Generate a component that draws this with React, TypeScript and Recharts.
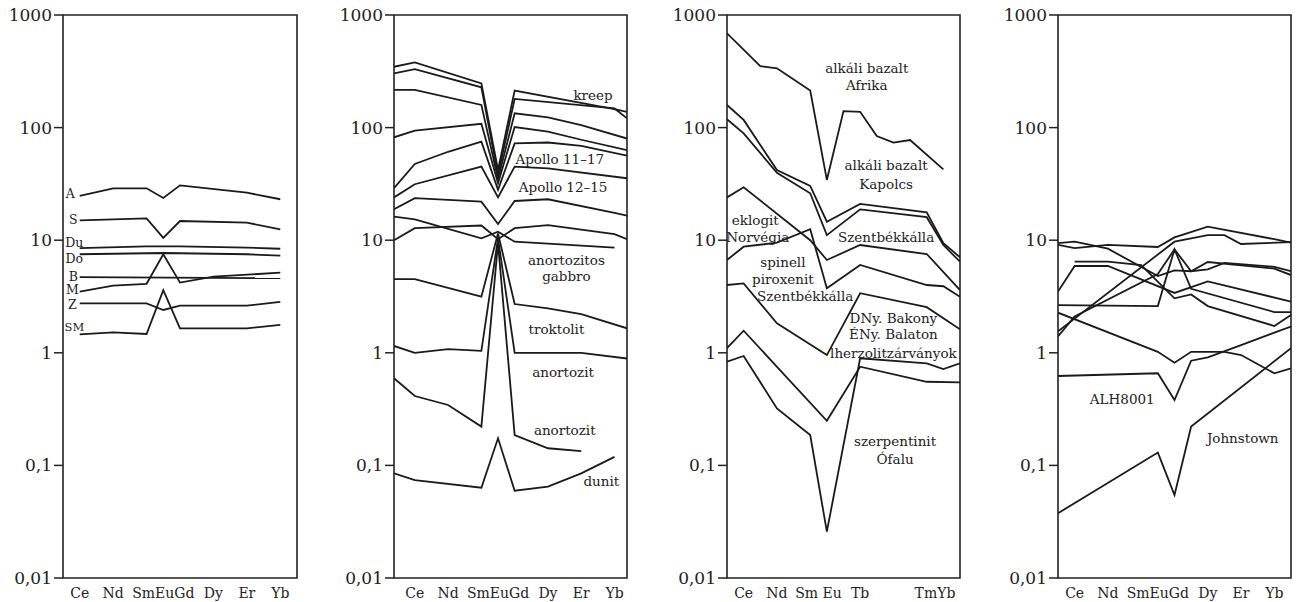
import { LineChart, Line, XAxis, YAxis, ReferenceArea, ReferenceDot } from "recharts";

type Pt = [string, number];
type Note = [string, number, number, number?];

const FONT = "'DejaVu Serif', serif";
const INK = "#222";

// atomic number positions on the x axis
const Z: Record<string, number> = {
  La: 57, Ce: 58, Pr: 59, Nd: 60, Sm: 62, Eu: 63, Gd: 64, Tb: 65,
  Dy: 66, Ho: 67, Er: 68, Tm: 69, Yb: 70, Lu: 71,
};
// panel 2: lines are drawn out to the frame on both sides
const Z2: Record<string, number> = { ...Z, La: 56.75, Lu: 70.75 };

const Y_TICKS = [0.01, 0.1, 1, 10, 100, 1000];
const Y_LABELS = ["0,01", "0,1", "1", "10", "100", "1000"];

const X_TICKS = [58, 60, 63, 66, 68, 70];
const X_LABELS = ["Ce", "Nd", "SmEuGd", "Dy", "Er", "Yb"];
const X_TICKS_3 = [58, 60, 62.5, 65, 69.5];
const X_LABELS_3 = ["Ce", "Nd", "Sm Eu", "Tb", "TmYb"];

// panel 1 — chondrites
const p1A: Pt[] = [["Ce", 24.7], ["Nd", 28.9], ["Sm", 28.9], ["Eu", 23.7], ["Gd", 30.7], ["Er", 26.4], ["Yb", 23.1]];
const p1S: Pt[] = [["Ce", 15.0], ["Sm", 15.6], ["Eu", 10.5], ["Gd", 14.8], ["Er", 14.3], ["Yb", 12.5]];
const p1Du: Pt[] = [["Ce", 8.5], ["Sm", 8.8], ["Gd", 8.8], ["Er", 8.6], ["Yb", 8.4]];
const p1Do: Pt[] = [["Ce", 7.5], ["Eu", 7.7], ["Er", 7.5], ["Yb", 7.3]];
const p1B: Pt[] = [["Ce", 4.7], ["Yb", 4.6]];
const p1M: Pt[] = [["Ce", 3.5], ["Nd", 3.95], ["Sm", 4.1], ["Eu", 7.5], ["Gd", 4.2], ["Dy", 4.74], ["Yb", 5.15]];
const p1Zl: Pt[] = [["Ce", 2.75], ["Sm", 2.75], ["Eu", 2.4], ["Gd", 2.62], ["Er", 2.62], ["Yb", 2.83]];
const p1SM: Pt[] = [["Ce", 1.46], ["Nd", 1.52], ["Sm", 1.47], ["Eu", 3.6], ["Gd", 1.65], ["Er", 1.65], ["Yb", 1.77]];

// panel 2 — lunar rocks
const p2a: Pt[] = [["La", 347], ["Ce", 380], ["Sm", 247], ["Eu", 42], ["Gd", 213], ["Yb", 146], ["Lu", 138]];
const p2b: Pt[] = [["La", 303], ["Ce", 330], ["Sm", 228], ["Eu", 38], ["Gd", 180], ["Yb", 148], ["Lu", 121]];
const p2c: Pt[] = [["La", 216], ["Ce", 216], ["Sm", 159], ["Eu", 35], ["Gd", 134], ["Dy", 123], ["Er", 105], ["Lu", 80]];
const p2d: Pt[] = [["La", 82], ["Ce", 94], ["Sm", 108], ["Eu", 32], ["Gd", 101], ["Dy", 92], ["Er", 78], ["Lu", 63]];
const p2e: Pt[] = [["La", 29], ["Ce", 47.5], ["Nd", 61], ["Sm", 75], ["Eu", 28], ["Gd", 72.5], ["Dy", 73.7], ["Er", 68.7], ["Lu", 56.3]];
const p2f: Pt[] = [["La", 24], ["Ce", 31.4], ["Sm", 45], ["Eu", 24], ["Gd", 45], ["Dy", 43.5], ["Lu", 35.5]];
const p2g: Pt[] = [["La", 18.8], ["Ce", 23.6], ["Sm", 22], ["Eu", 13.9], ["Gd", 22.3], ["Dy", 23.1], ["Yb", 17.5], ["Lu", 16.5]];
const p2h: Pt[] = [["La", 16.2], ["Ce", 15.3], ["Sm", 10.4], ["Eu", 11.9], ["Gd", 9.7], ["Yb", 8.6]];
const p2i: Pt[] = [["La", 10], ["Ce", 12.8], ["Sm", 13.5], ["Eu", 10.2], ["Gd", 12.8], ["Dy", 13.6], ["Yb", 11.3], ["Lu", 10.2]];
const p2j: Pt[] = [["La", 4.52], ["Ce", 4.52], ["Sm", 3.15], ["Eu", 11.5], ["Gd", 2.71], ["Dy", 2.48], ["Er", 2.21], ["Lu", 1.65]];
const p2k: Pt[] = [["La", 1.15], ["Ce", 1.0], ["Nd", 1.08], ["Sm", 1.04], ["Eu", 10.4], ["Gd", 1.0], ["Er", 1.0], ["Lu", 0.89]];
const p2l: Pt[] = [["La", 0.594], ["Ce", 0.413], ["Nd", 0.344], ["Sm", 0.221], ["Eu", 9.4], ["Gd", 0.186], ["Dy", 0.142], ["Er", 0.134]];
const p2m: Pt[] = [["La", 0.085], ["Ce", 0.074], ["Sm", 0.0634], ["Eu", 0.174], ["Gd", 0.0596], ["Dy", 0.0647], ["Er", 0.085], ["Yb", 0.119]];

// panel 3 — terrestrial rocks
const p3a: Pt[] = [["La", 688], ["Pr", 352], ["Nd", 336], ["Sm", 213], ["Eu", 34.3], ["Gd", 140], ["Tb", 138], ["Dy", 84], ["Ho", 73.5], ["Er", 77.6], ["Yb", 42.6]];
const p3b: Pt[] = [["La", 159], ["Ce", 117], ["Nd", 42], ["Sm", 30.3], ["Eu", 14.6], ["Tb", 21], ["Tm", 17.7], ["Yb", 9.4], ["Lu", 7.05]];
const p3c: Pt[] = [["La", 118.5], ["Ce", 89], ["Nd", 39.7], ["Sm", 26.1], ["Eu", 11.1], ["Tb", 18.8], ["Tm", 16], ["Yb", 9.06], ["Lu", 6.44]];
const p3d: Pt[] = [["La", 24], ["Ce", 29.5], ["Sm", 10], ["Eu", 6.67], ["Tb", 9.06], ["Tm", 7.54], ["Lu", 3.61]];
const p3e: Pt[] = [["La", 6.67], ["Ce", 8.75], ["Nd", 9.5], ["Sm", 12.5], ["Eu", 3.74], ["Tb", 6.03], ["Tm", 4.0], ["Yb", 3.9], ["Lu", 3.15]];
const p3f: Pt[] = [["La", 4.0], ["Ce", 4.13], ["Nd", 1.83], ["Eu", 0.955], ["Tb", 3.38], ["Tm", 2.54], ["Lu", 1.62]];
const p3g: Pt[] = [["La", 1.1], ["Ce", 1.57], ["Eu", 0.249], ["Tb", 0.753], ["Tm", 0.553], ["Lu", 0.546]];
const p3h: Pt[] = [["La", 0.834], ["Ce", 0.937], ["Nd", 0.321], ["Sm", 0.186], ["Eu", 0.0258], ["Tb", 0.894], ["Tm", 0.807], ["Yb", 0.718], ["Lu", 0.807]];

// panel 4 — meteorites
const p4a: Pt[] = [["La", 9.1], ["Ce", 8.5], ["Nd", 9.1], ["Eu", 8.7], ["Gd", 10.6], ["Dy", 13.2], ["Yb", 10.2], ["Lu", 9.5]];
const p4b: Pt[] = [["La", 9.4], ["Ce", 9.7], ["Nd", 8.4], ["Eu", 4.8], ["Gd", 5.4], ["Tb", 5.3], ["Dy", 6.4], ["Yb", 5.6], ["Lu", 4.9]];
const p4c: Pt[] = [["La", 1.55], ["Gd", 9.7], ["Dy", 11.1], ["Ho", 11.1], ["Er", 9.25], ["Lu", 9.6]];
const p4d: Pt[] = [["Ce", 6.44], ["Nd", 6.44], ["Sm", 6.0], ["Gd", 3.05], ["Tb", 3.3], ["Dy", 2.6], ["Yb", 1.73], ["Lu", 2.17]];
const p4e: Pt[] = [["La", 3.5], ["Ce", 5.9], ["Nd", 5.9], ["Gd", 3.4], ["Dy", 4.3], ["Lu", 2.85]];
const p4f: Pt[] = [["La", 2.65], ["Eu", 2.6], ["Gd", 8.3], ["Tb", 3.7], ["Yb", 2.3], ["Lu", 2.3]];
const p4g: Pt[] = [["La", 2.27], ["Eu", 1.02], ["Gd", 0.817], ["Tb", 1.02], ["Ho", 1.02], ["Er", 0.955], ["Yb", 0.658], ["Lu", 0.728]];
const p4h: Pt[] = [["La", 1.4], ["Ce", 2.1], ["Eu", 5.0], ["Gd", 8.3], ["Tb", 5.3], ["Dy", 5.5], ["Ho", 6.3], ["Yb", 5.8], ["Lu", 5.3]];
const p4ALH: Pt[] = [["La", 0.622], ["Eu", 0.658], ["Gd", 0.381], ["Tb", 0.851], ["Dy", 0.912], ["Er", 1.17], ["Yb", 1.51], ["Lu", 1.71]];
const p4J: Pt[] = [["La", 0.0376], ["Eu", 0.13], ["Gd", 0.0546], ["Tb", 0.221], ["Lu", 1.1]];

// text labels: [text, x, y, fontSize?]
const notes1: Note[] = [
  ["A", 57.44, 26.2], ["S", 57.62, 15.1], ["Du", 57.68, 9.6], ["Do", 57.68, 6.8],
  ["B", 57.62, 4.8], ["M", 57.56, 3.62], ["Z", 57.56, 2.66], ["SM", 57.68, 1.69, 11.5],
];
const notes2: Note[] = [
  ["kreep", 68.71, 194.8], ["Apollo 11–17", 66.71, 52.6], ["Apollo 12–15", 66.91, 29.3],
  ["anortozitos", 67.11, 6.67], ["gabbro", 67.11, 4.81], ["troktolit", 66.51, 1.62],
  ["anortozit", 66.91, 0.666], ["anortozit", 67.01, 0.206], ["dunit", 69.21, 0.0731],
];
const notes3: Note[] = [
  ["alkáli bazalt", 65.4, 336], ["Afrika", 65.4, 239], ["alkáli bazalt", 66.56, 45.9],
  ["Kapolcs", 66.56, 31.6], ["eklogit", 58.7, 15.1], ["Norvégia", 58.85, 10.7],
  ["Szentbékkálla", 66.56, 10.7], ["spinell", 60.36, 6.44], ["piroxenit", 60.36, 4.5],
  ["Szentbékkálla", 61.7, 3.15], ["DNy. Bakony", 67, 2.02], ["ÉNy. Balaton", 67, 1.46],
  ["lherzolitzárványok", 67, 1.0], ["szerpentinit", 67.1, 0.163], ["Ófalu", 67.1, 0.113],
];
const notes4: Note[] = [["ALH8001", 60.86, 0.386], ["Johnstown", 68.1, 0.174]];

interface PanelProps {
  left: number;
  plotW: number;
  domain: [number, number];
  xMap: Record<string, number>;
  xTicks: number[];
  xLabels: string[];
  series: Pt[][];
  notes: Note[];
  noteSize: number;
}

function Panel({ left, plotW, domain, xMap, xTicks, xLabels, series, notes, noteSize }: PanelProps) {
  return (
    <div style={{ position: "absolute", left, top: 0 }}>
      <LineChart width={62 + plotW + 2} height={602} margin={{ top: 15, right: 2, bottom: 2, left: 0 }}>
        <XAxis
          type="number"
          dataKey="x"
          domain={domain}
          allowDataOverflow
          ticks={xTicks}
          interval={0}
          tickFormatter={(v: number) => xLabels[xTicks.indexOf(v)] ?? ""}
          axisLine={false}
          tickLine={false}
          tickSize={8}
          height={22}
          tick={{ fontSize: 14, fill: INK, fontFamily: FONT }}
        />
        <YAxis
          type="number"
          dataKey="y"
          scale="log"
          domain={[0.01, 1000]}
          allowDataOverflow
          ticks={Y_TICKS}
          interval={0}
          tickFormatter={(v: number) => Y_LABELS[Y_TICKS.indexOf(v)] ?? ""}
          width={62}
          axisLine={false}
          tickSize={9}
          tickLine={{ stroke: INK, strokeWidth: 1.5 }}
          fontSize={17}
          tick={{ fontSize: 17, fill: INK, fontFamily: FONT }}
        />
        <ReferenceArea
          x1={domain[0]}
          x2={domain[1]}
          y1={0.01}
          y2={1000}
          fill="none"
          stroke={INK}
          strokeWidth={1.6}
          ifOverflow="visible"
        />
        {series.map((pts, i) => (
          <Line
            key={i}
            data={pts.map(([el, v]) => ({ x: xMap[el], y: v }))}
            dataKey="y"
            type="linear"
            stroke="#1a1a1a"
            strokeWidth={1.8}
            dot={false}
            activeDot={false}
            isAnimationActive={false}
          />
        ))}
        {notes.map(([text, x, y, size], i) => (
          <ReferenceDot
            key={"n" + i}
            x={x}
            y={y}
            r={0}
            fill="none"
            stroke="none"
            ifOverflow="visible"
            label={{ value: text, position: "center", fontSize: size ?? noteSize, fill: INK, fontFamily: FONT }}
          />
        ))}
      </LineChart>
    </div>
  );
}

export default function App() {
  return (
    <div style={{ position: "relative", width: 1302, height: 602, background: "#fff" }}>
      <style>{"body{margin:0}"}</style>
      <Panel left={1} plotW={234} domain={[57, 71]} xMap={Z} xTicks={X_TICKS} xLabels={X_LABELS}
        series={[p1A, p1S, p1Du, p1Do, p1B, p1M, p1Zl, p1SM]} notes={notes1} noteSize={12.5} />
      <Panel left={332} plotW={233} domain={[56.75, 70.75]} xMap={Z2} xTicks={X_TICKS} xLabels={X_LABELS}
        series={[p2a, p2b, p2c, p2d, p2e, p2f, p2g, p2h, p2i, p2j, p2k, p2l, p2m]} notes={notes2} noteSize={13.5} />
      <Panel left={665} plotW={233} domain={[57, 71]} xMap={Z} xTicks={X_TICKS_3} xLabels={X_LABELS_3}
        series={[p3a, p3b, p3c, p3d, p3e, p3f, p3g, p3h]} notes={notes3} noteSize={13.5} />
      <Panel left={996} plotW={233} domain={[57, 71]} xMap={Z} xTicks={X_TICKS} xLabels={X_LABELS}
        series={[p4a, p4b, p4c, p4d, p4e, p4f, p4g, p4h, p4ALH, p4J]} notes={notes4} noteSize={13.5} />
    </div>
  );
}
